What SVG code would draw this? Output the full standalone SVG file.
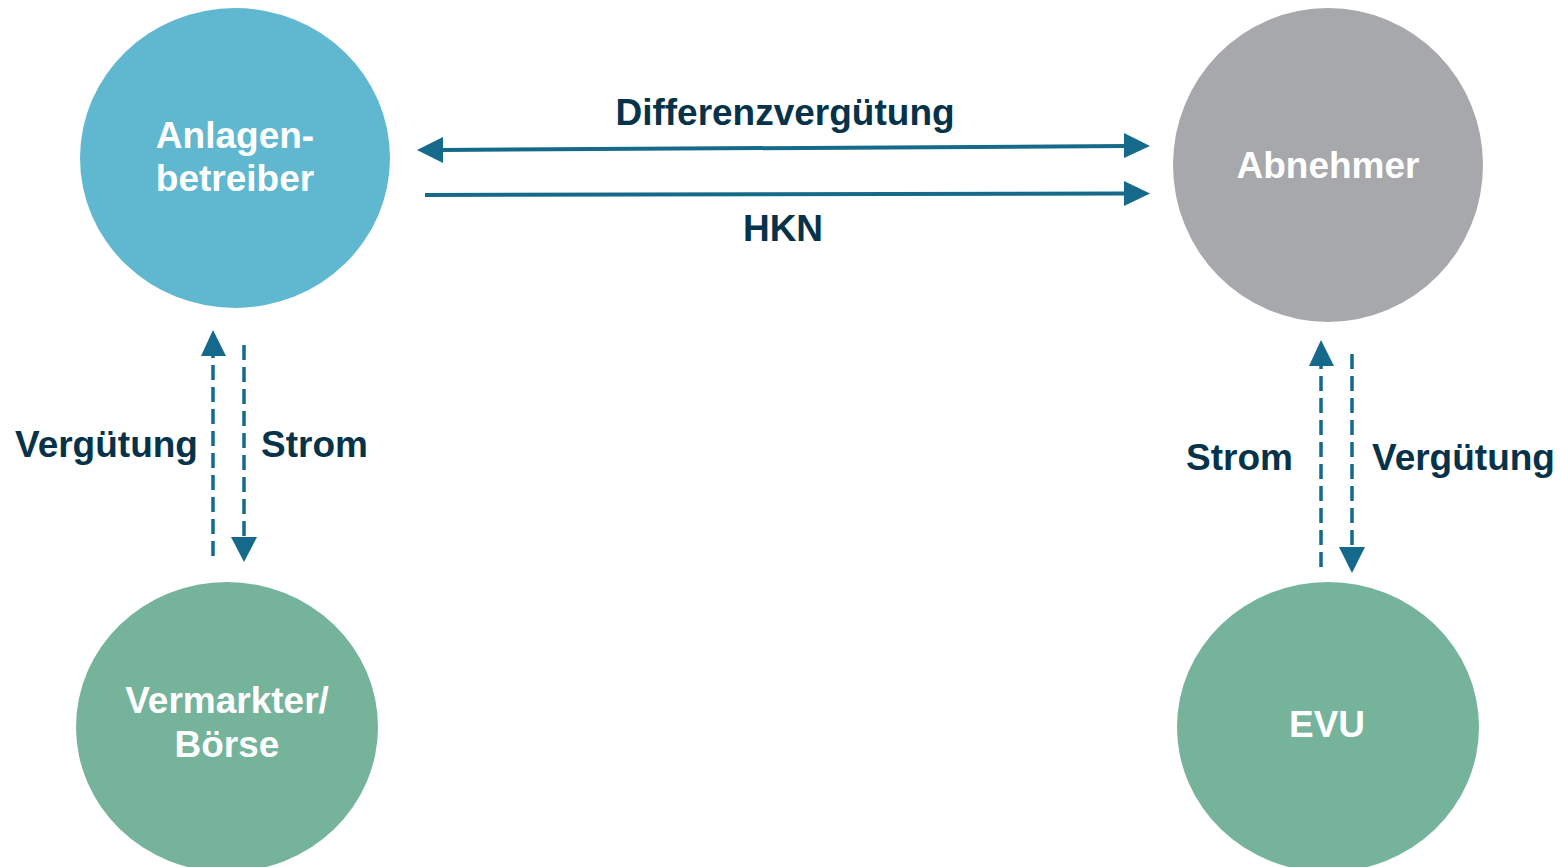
<svg xmlns="http://www.w3.org/2000/svg" width="1560" height="867" viewBox="0 0 1560 867">
<style>
.node text{font-family:"Liberation Sans",Arial,sans-serif;font-weight:bold;font-size:37px;fill:#ffffff;text-anchor:middle}
.lbl{font-family:"Liberation Sans",Arial,sans-serif;font-weight:bold;font-size:37px;fill:#06334a}
.solid{stroke:#15698a;stroke-width:4;fill:none}
.dash{stroke:#15698a;stroke-width:3.5;fill:none;stroke-dasharray:15 7}
.head{fill:#15698a}
</style>
<rect width="1560" height="867" fill="#ffffff"/>
<g id="anlagenbetreiber" class="node">
<ellipse cx="235" cy="158" rx="155" ry="150" fill="#5fb8cf"/>
<text x="235" y="148">Anlagen-</text>
<text x="235" y="191">betreiber</text>
</g>
<g id="abnehmer" class="node">
<ellipse cx="1328" cy="165" rx="155" ry="157" fill="#a7a8ac"/>
<text x="1328" y="178">Abnehmer</text>
</g>
<g id="vermarkter" class="node">
<ellipse cx="227" cy="727" rx="151" ry="145" fill="#76b39b"/>
<text x="227" y="713">Vermarkter/</text>
<text x="227" y="757">Börse</text>
</g>
<g id="evu" class="node">
<ellipse cx="1328" cy="727" rx="151" ry="145" fill="#76b39b"/>
<text x="1327" y="737">EVU</text>
</g>
<g id="connectors">
<line class="solid" x1="441" y1="150" x2="1126" y2="146"/>
<polygon class="head" points="417,150 443,137 443,163"/>
<polygon class="head" points="1150,146 1124,133 1124,158"/>
<line class="solid" x1="425" y1="195" x2="1126" y2="193.5"/>
<polygon class="head" points="1150,193.5 1124,181 1124,206"/>
<line class="dash" x1="213" y1="556" x2="213" y2="354"/>
<polygon class="head" points="213,330 201,356 226,356"/>
<line class="dash" x1="244" y1="345" x2="244" y2="538"/>
<polygon class="head" points="244,562 231,537 257,537"/>
<line class="dash" x1="1321" y1="567" x2="1321" y2="364"/>
<polygon class="head" points="1321,340 1309,366 1334,366"/>
<line class="dash" x1="1352" y1="354" x2="1352" y2="548"/>
<polygon class="head" points="1352,573 1339,547 1365,547"/>
</g>
<g id="labels">
<text class="lbl" x="785" y="125" text-anchor="middle">Differenzvergütung</text>
<text class="lbl" x="783" y="241" text-anchor="middle">HKN</text>
<text class="lbl" x="15" y="457">Vergütung</text>
<text class="lbl" x="261" y="457">Strom</text>
<text class="lbl" x="1186" y="470">Strom</text>
<text class="lbl" x="1372" y="470">Vergütung</text>
</g>
</svg>
